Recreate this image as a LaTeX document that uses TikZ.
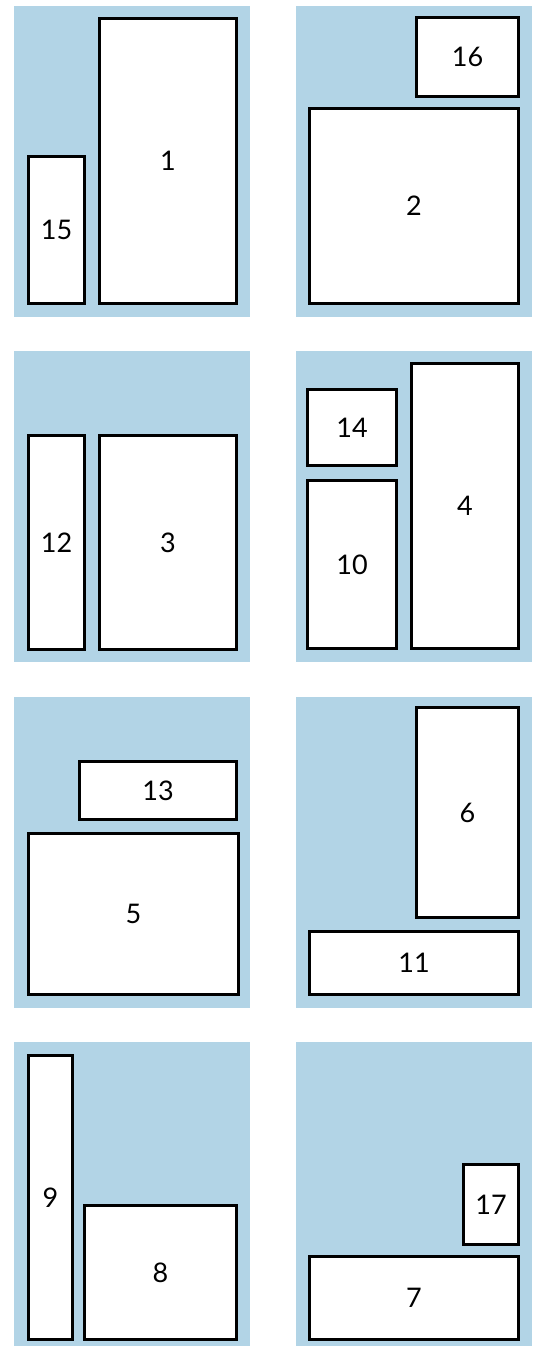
\documentclass[tikz,border=0pt]{standalone}
\usepackage{fontspec}
\setmainfont{Lato}
\usepackage{tikz}
\usetikzlibrary{positioning}
\definecolor{panelblue}{RGB}{178,212,230}
\tikzset{
  panel/.style={
    fill=panelblue
  },
  piece/.style={
    draw,
    rectangle,
    fill=white,
    line width=2.6pt,
    inner sep=0pt,
    align=center,
    font=\fontsize{27}{30}\selectfont,
  }
}

\begin{document}
\begin{tikzpicture}[x=1pt, y=-1pt]
  \useasboundingbox (0,0) rectangle (536,1346);

  % Fonds
  \fill[panel] (14,6) rectangle (250,317);
  \fill[panel] (296,6) rectangle (532,317);
  \fill[panel] (14,351) rectangle (250,662);
  \fill[panel] (296,351) rectangle (532,662);
  \fill[panel] (14,697) rectangle (250,1008);
  \fill[panel] (296,697) rectangle (532,1008);
  \fill[panel] (14,1042) rectangle (250,1353);
  \fill[panel] (296,1042) rectangle (532,1353);

  % Rangee 1
  \node[piece, minimum width=137pt, minimum height=285pt] (p1) at (168,161) {1};
  \node[piece, minimum width=56pt, minimum height=147pt] (p15) at (56.5,230) {15};
  \node[piece, minimum width=102pt, minimum height=79pt] (p16) at (467.5,57) {16};
  \node[piece, minimum width=209pt, minimum height=195pt] (p2) at (414,206) {2};

  % Rangee 2
  \node[piece, minimum width=56pt, minimum height=214pt] (p12) at (56.5,542.5) {12};
  \node[piece, minimum width=137pt, minimum height=214pt] (p3) at (168,542.5) {3};
  \node[piece, minimum width=89pt, minimum height=76pt] (p14) at (352,427.5) {14};
  \node[piece, minimum width=89pt, minimum height=168pt] (p10) at (352,564.5) {10};
  \node[piece, minimum width=107pt, minimum height=285pt] (p4) at (465,506) {4};

  % Rangee 3
  \node[piece, minimum width=157pt, minimum height=58pt] (p13) at (158,790.5) {13};
  \node[piece, minimum width=210pt, minimum height=161pt] (p5) at (133.5,914) {5};
  \node[piece, minimum width=102pt, minimum height=210pt] (p6) at (467.5,812.5) {6};
  \node[piece, minimum width=209pt, minimum height=63pt] (p11) at (414,963) {11};

  % Rangee 4
  \node[piece, minimum width=44pt, minimum height=284pt] (p9) at (50.5,1197.5) {9};
  \node[piece, minimum width=152pt, minimum height=134pt] (p8) at (160.5,1272.5) {8};
  \node[piece, minimum width=55pt, minimum height=80pt] (p17) at (491,1204.5) {17};
  \node[piece, minimum width=209pt, minimum height=83pt] (p7) at (414,1298) {7};

\end{tikzpicture}
\end{document}
